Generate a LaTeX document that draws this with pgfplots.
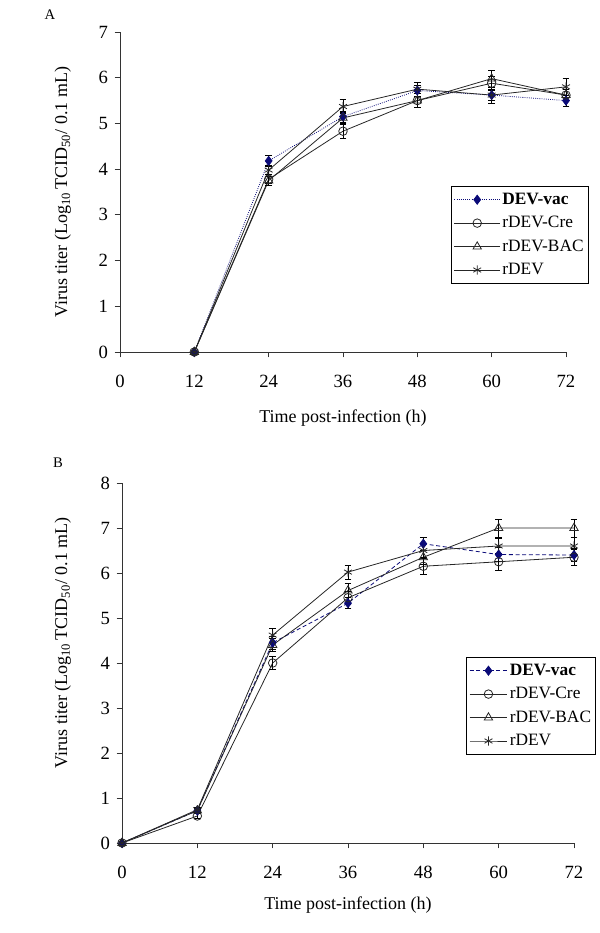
\documentclass[border=0pt]{standalone}
\usepackage{pgfplots}
\pgfplotsset{compat=1.18}
\usepackage{fontspec}
\setmainfont{Liberation Serif}
\definecolor{navyb}{RGB}{10,10,120}
\pgfplotsset{
  mystyle/.style={
    scale only axis,
    axis x line*=bottom, axis y line*=left,
    xmin=0, xmax=72, xtick={0,12,...,72}, ymin=0, ytick distance=1,
    tick align=outside, major tick length=4pt,
    tick style={black!80, line width=0.6pt},
    axis line style={black!80, line width=0.7pt},
    /pgf/number format/assume math mode=true,
    ticklabel style={font=\fontsize{14}{16}\selectfont},
    xticklabel style={yshift=-10pt},
    yticklabel style={xshift=-1.5pt},
    label style={font=\fontsize{13.5}{15}\selectfont},
    xlabel={Time post-infection (h)},
    ylabel={Virus titer (Log\textsubscript{10}\,TCID\textsubscript{50}/ 0.1 mL)},
    clip=false,
    legend cell align=left,
    legend style={draw=black, line width=0.7pt, font=\fontsize{13}{15}\selectfont,
      inner xsep=2pt, inner ysep=3pt, row sep=3.5pt, anchor=north west,
      nodes={inner xsep=1.5pt}},
    error bars/y dir=both, error bars/y explicit,
    error bars/error bar style={black, line width=0.5pt, solid},
    error bars/error mark options={rotate=90, mark size=2.6pt, black, line width=0.5pt, solid},
  },
  limg/.style={legend image code/.code={
      \draw[mark repeat=2,mark phase=2,##1] plot coordinates {(0cm,0cm) (#1/2,0cm) (#1,0cm)};}},
  vac/.style={navyb, densely dotted, line width=0.6pt, mark=diamond*, mark size=3.4pt,
    mark options={solid, fill=navyb, draw=navyb}},
  cre/.style={black!85, line width=0.6pt, mark=o, mark size=3.2pt, mark options={solid, fill=white}},
  bac/.style={black!85, line width=0.6pt, mark=triangle, mark size=3.6pt, mark options={solid, fill=white}},
  rdv/.style={black!85, line width=0.6pt, mark=asterisk, mark size=3.4pt, mark options={solid}},
}
\begin{document}
\begin{tikzpicture}
\path[use as bounding box] (0,0) rectangle (450pt,699.75pt);
\node[font=\fontsize{11}{12}\selectfont] at (37.5pt,688.5pt) {A};
\node[font=\fontsize{11}{12}\selectfont] at (43.5pt,352.5pt) {B};
% Panel A
\begin{axis}[mystyle, limg=1.2cm, at={(90pt,435.75pt)}, anchor=south west,
  width=334.5pt, height=240pt, ymax=7,
  xlabel style={at={(axis description cs:0.5,-0.206)}, anchor=center},
  ylabel style={at={(axis description cs:-0.128,0.5)}, anchor=center, rotate=0},
  legend style={at={(0.742,0.519)}},
  legend entries={\textbf{DEV-vac}, rDEV-Cre, rDEV-BAC, rDEV}]
\addplot[vac, error bars/.cd, y dir=both, y explicit] table[x=t, y=v, y error=e] {
t v e
12 0 0
24 4.18 0.12
36 5.15 0.12
48 5.72 0.12
60 5.62 0.12
72 5.50 0.12
};
\addplot[cre, error bars/.cd, y dir=both, y explicit] table[x=t, y=v, y error=e] {
t v e
12 0 0
24 3.78 0.10
36 4.83 0.15
48 5.50 0.15
60 5.88 0.15
72 5.62 0.12
};
\addplot[bac, error bars/.cd, y dir=both, y explicit] table[x=t, y=v, y error=e] {
t v e
12 0 0
24 3.75 0.10
36 5.12 0.12
48 5.50 0.15
60 5.98 0.18
72 5.62 0.12
};
\addplot[rdv, error bars/.cd, y dir=both, y explicit] table[x=t, y=v, y error=e] {
t v e
12 0 0
24 3.98 0.10
36 5.37 0.15
48 5.75 0.15
60 5.62 0.18
72 5.80 0.18
};
\end{axis}
% Panel B
\begin{axis}[mystyle, limg=1.0cm, at={(91.5pt,67.5pt)}, anchor=south west,
  width=339pt, height=270pt, ymax=8,
  xlabel style={at={(axis description cs:0.5,-0.172)}, anchor=center},
  ylabel style={at={(axis description cs:-0.131,0.556)}, anchor=center, rotate=0},
  legend style={at={(0.761,0.517)}},
  legend entries={\textbf{DEV-vac}, rDEV-Cre, rDEV-BAC, rDEV}]
\addplot[vac, densely dashed, error bars/.cd, y dir=both, y explicit] table[x=t, y=v, y error=e] {
t v e
0 0 0
12 0.72 0.05
24 4.45 0.15
36 5.33 0.12
48 6.65 0.15
60 6.41 0.15
72 6.40 0.15
};
\addplot[cre, error bars/.cd, y dir=both, y explicit] table[x=t, y=v, y error=e] {
t v e
0 0 0
12 0.60 0.05
24 4.00 0.15
36 5.45 0.15
48 6.15 0.17
60 6.25 0.18
72 6.35 0.18
};
\addplot[bac, error bars/.cd, y dir=both, y explicit] table[x=t, y=v, y error=e] {
t v e
0 0 0
12 0.72 0.05
24 4.40 0.15
36 5.61 0.15
48 6.35 0.15
60 7.00 0.20
72 7.00 0.20
};
\addplot[rdv, error bars/.cd, y dir=both, y explicit] table[x=t, y=v, y error=e] {
t v e
0 0 0
12 0.74 0.05
24 4.62 0.15
36 6.02 0.15
48 6.50 0.15
60 6.60 0.18
72 6.60 0.20
};
\end{axis}
\end{tikzpicture}
\end{document}
